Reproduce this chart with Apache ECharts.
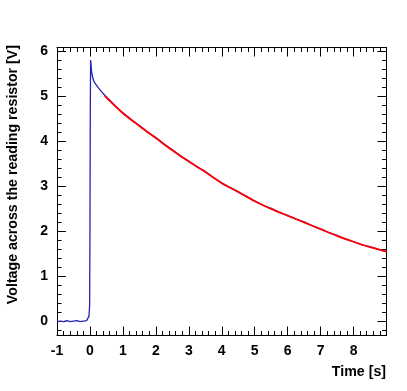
<!DOCTYPE html>
<html><head><meta charset="utf-8">
<script src="https://cdn.jsdelivr.net/npm/echarts@6/dist/echarts.min.js"></script>
<style>html,body{margin:0;padding:0;background:#fff}#c{width:407px;height:391px}</style>
</head><body><div id="c"></div>
<script>
// Measured data (blue) : time [s] and voltage [V]
var dataTime = [-1.0,-0.9,-0.8,-0.7,-0.6,-0.5,-0.4,-0.3,-0.2,-0.1,-0.06,-0.03,-0.01,0.0,0.01,0.02,0.03,0.05,0.08,0.12,0.18,0.25,0.35,0.45,0.6,0.75,1.0,1.25,1.5,1.75,2.0,2.25,2.5,2.75,3.0,3.25,3.5,3.75,4.0,4.25,4.5,4.75,5.0,5.25,5.5,5.75,6.0,6.25,6.5,6.75,7.0,7.25,7.5,7.75,8.0,8.25,8.5,8.75,9.0];
var dataVolt = [0.00,0.01,0.00,0.02,0.00,0.01,0.02,0.00,0.01,0.02,0.04,0.12,0.35,2.0,4.6,5.80,5.72,5.55,5.42,5.33,5.26,5.19,5.10,5.02,4.91,4.80,4.63,4.48,4.35,4.20,4.08,3.94,3.81,3.67,3.56,3.43,3.33,3.19,3.08,2.97,2.87,2.77,2.68,2.58,2.51,2.42,2.35,2.27,2.21,2.12,2.05,1.97,1.91,1.83,1.77,1.70,1.66,1.60,1.55];
// Fit curve (red)
var fitTime = [0.45,0.5,1.0,1.5,2.0,2.5,3.0,3.5,4.0,4.5,5.0,5.5,6.0,6.5,7.0,7.5,8.0,8.5,9.0];
var fitVolt = [5.01,4.97,4.62,4.34,4.07,3.80,3.55,3.32,3.07,2.88,2.67,2.50,2.35,2.20,2.05,1.90,1.77,1.65,1.55];
// Axis ticks
var yMajorTicks = [0,1,2,3,4,5,6];
var yMinorTicks = [-0.2,0.2,0.4,0.6,0.8,1.2,1.4,1.6,1.8,2.2,2.4,2.6,2.8,3.2,3.4,3.6,3.8,4.2,4.4,4.6,4.8,5.2,5.4,5.6,5.8,6.0];
var xTitle = 'Time [s]';
var yTitle = 'Voltage across the reading resistor [V]';

var FONT = 'Liberation Sans';
var X_MIN = -1, X_MAX = 9, Y_MIN = -0.31, Y_MAX = 6.08;
var GRID = {left: 57, right: 20.5, top: 47.5, bottom: 55.5};
var black = '#000';

function zip(a, b) { return a.map(function (v, i) { return [v, b[i]]; }); }

function xAx(pos, labels) {
  return {
    type: 'value', position: pos, min: X_MIN, max: X_MAX, interval: 1,
    axisLine: {show: true, onZero: false, lineStyle: {color: black, width: 1}},
    axisTick: {show: true, inside: true, length: 9, lineStyle: {color: black, width: 1}},
    minorTick: {show: true, splitNumber: 5, length: 4.5, lineStyle: {color: black, width: 1}},
    splitLine: {show: false}, minorSplitLine: {show: false},
    axisLabel: {show: labels, margin: 9, showMaxLabel: false, color: black,
      fontFamily: FONT, fontWeight: 'bold', fontSize: 14}
  };
}
function yAx(pos, ticks, len, labels, line) {
  return {
    type: 'value', position: pos, min: Y_MIN, max: Y_MAX,
    axisLine: {show: line, onZero: false, lineStyle: {color: black, width: 1}},
    axisTick: {show: true, inside: true, length: len, customValues: ticks, lineStyle: {color: black, width: 1}},
    splitLine: {show: false},
    axisLabel: {show: labels, customValues: ticks, margin: 9, color: black,
      fontFamily: FONT, fontWeight: 'bold', fontSize: 14}
  };
}

var chart = echarts.init(document.getElementById('c'), null, {renderer: 'canvas'});
chart.setOption({
  animation: false,
  backgroundColor: '#fff',
  grid: Object.assign({containLabel: false, outerBoundsMode: 'none'}, GRID),
  xAxis: [xAx('bottom', true), xAx('top', false)],
  yAxis: [
    yAx('left', yMajorTicks, 9, true, true),
    yAx('left', yMinorTicks, 4.5, false, false),
    yAx('right', yMajorTicks, 9, false, true),
    yAx('right', yMinorTicks, 4.5, false, false)
  ],
  series: [
    {type: 'line', xAxisIndex: 0, yAxisIndex: 0, data: zip(dataTime, dataVolt), showSymbol: false,
     lineStyle: {color: '#2323b8', width: 1.3}, z: 2},
    {type: 'line', xAxisIndex: 0, yAxisIndex: 0, data: zip(fitTime, fitVolt), showSymbol: false, smooth: 0.3,
     lineStyle: {color: '#ff0000', width: 1.8}, z: 3}
  ],
  graphic: [
    {type: 'text', x: 13, y: 45, rotation: Math.PI / 2,
     style: {text: yTitle, fill: black, font: 'bold 14.2px "Liberation Sans"', textAlign: 'right', textVerticalAlign: 'middle'}},
    {type: 'text', x: 386, y: 372,
     style: {text: xTitle, fill: black, font: 'bold 14.2px "Liberation Sans"', textAlign: 'right', textVerticalAlign: 'middle'}}
  ]
});
</script></body></html>
